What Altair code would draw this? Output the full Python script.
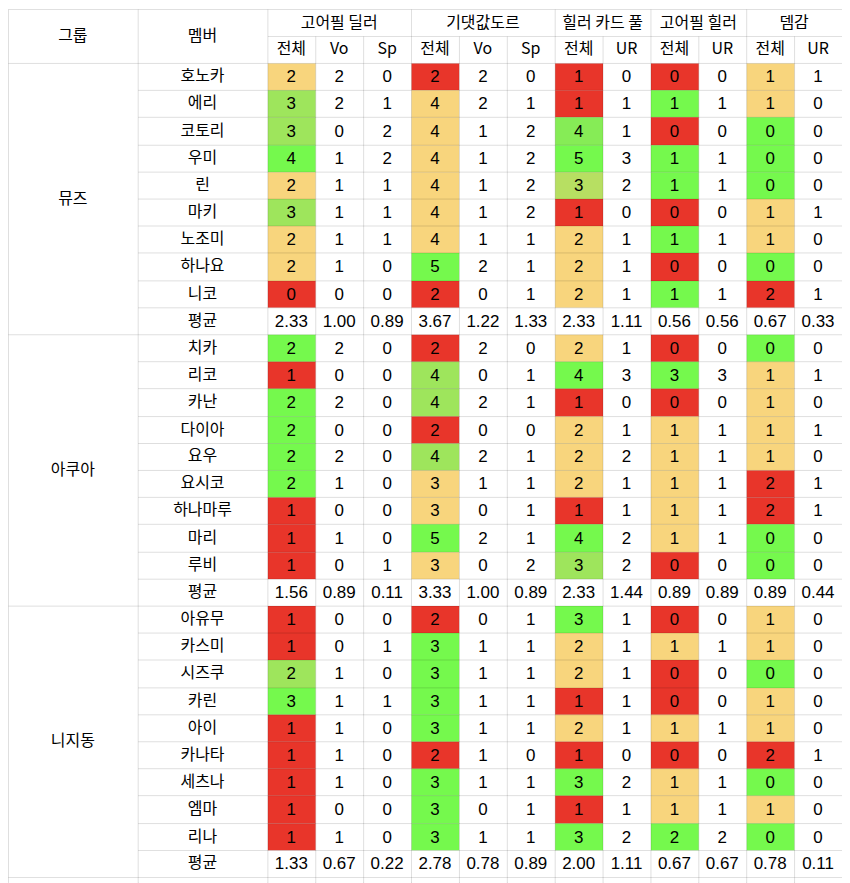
import altair as alt
import pandas as pd

# ---------------- data ----------------
groups = ["뮤즈", "아쿠아", "니지동"]
categories = ["고어필 딜러", "기댓값도르", "힐러 카드 풀", "고어필 힐러", "뎀감"]
category_spans = [3, 3, 2, 2, 2]
sub_headers = ["전체", "Vo", "Sp", "전체", "Vo", "Sp", "전체", "UR", "전체", "UR", "전체", "UR"]
total_cols = [0, 3, 6, 8, 10]  # which sub-columns are the coloured "전체" columns

members_muse = ["호노카", "에리", "코토리", "우미", "린", "마키", "노조미", "하나요", "니코"]
values_muse = [
    [2, 2, 0, 2, 2, 0, 1, 0, 0, 0, 1, 1],
    [3, 2, 1, 4, 2, 1, 1, 1, 1, 1, 1, 0],
    [3, 0, 2, 4, 1, 2, 4, 1, 0, 0, 0, 0],
    [4, 1, 2, 4, 1, 2, 5, 3, 1, 1, 0, 0],
    [2, 1, 1, 4, 1, 2, 3, 2, 1, 1, 0, 0],
    [3, 1, 1, 4, 1, 2, 1, 0, 0, 0, 1, 1],
    [2, 1, 1, 4, 1, 1, 2, 1, 1, 1, 1, 0],
    [2, 1, 0, 5, 2, 1, 2, 1, 0, 0, 0, 0],
    [0, 0, 0, 2, 0, 1, 2, 1, 1, 1, 2, 1],
]
colors_muse = ["YRRRY", "LYRGY", "LYMRG", "GYGGG", "YYKGG", "LYRRY", "YYYGY", "YGYRG", "RRYGR"]
avg_muse = [2.33, 1.00, 0.89, 3.67, 1.22, 1.33, 2.33, 1.11, 0.56, 0.56, 0.67, 0.33]

members_aqours = ["치카", "리코", "카난", "다이아", "요우", "요시코", "하나마루", "마리", "루비"]
values_aqours = [
    [2, 2, 0, 2, 2, 0, 2, 1, 0, 0, 0, 0],
    [1, 0, 0, 4, 0, 1, 4, 3, 3, 3, 1, 1],
    [2, 2, 0, 4, 2, 1, 1, 0, 0, 0, 1, 0],
    [2, 0, 0, 2, 0, 0, 2, 1, 1, 1, 1, 1],
    [2, 2, 0, 4, 2, 1, 2, 2, 1, 1, 1, 0],
    [2, 1, 0, 3, 1, 1, 2, 1, 1, 1, 2, 1],
    [1, 0, 0, 3, 0, 1, 1, 1, 1, 1, 2, 1],
    [1, 1, 0, 5, 2, 1, 4, 2, 1, 1, 0, 0],
    [1, 0, 1, 3, 0, 2, 3, 2, 0, 0, 0, 0],
]
colors_aqours = ["GRYRG", "RLGGY", "GLRRY", "GRYYY", "GLYYY", "GYYYR", "RYRYR", "RGGYG", "RYLRG"]
avg_aqours = [1.56, 0.89, 0.11, 3.33, 1.00, 0.89, 2.33, 1.44, 0.89, 0.89, 0.89, 0.44]

members_niji = ["아유무", "카스미", "시즈쿠", "카린", "아이", "카나타", "세츠나", "엠마", "리나"]
values_niji = [
    [1, 0, 0, 2, 0, 1, 3, 1, 0, 0, 1, 0],
    [1, 0, 1, 3, 1, 1, 2, 1, 1, 1, 1, 0],
    [2, 1, 0, 3, 1, 1, 2, 1, 0, 0, 0, 0],
    [3, 1, 1, 3, 1, 1, 1, 1, 0, 0, 1, 0],
    [1, 1, 0, 3, 1, 1, 2, 1, 1, 1, 1, 0],
    [1, 1, 0, 2, 1, 0, 1, 0, 0, 0, 2, 1],
    [1, 1, 0, 3, 1, 1, 3, 2, 1, 1, 0, 0],
    [1, 0, 0, 3, 0, 1, 1, 1, 1, 1, 1, 0],
    [1, 1, 0, 3, 1, 1, 3, 2, 2, 2, 0, 0],
]
colors_niji = ["RRGRY", "RGYYY", "LGYRG", "GGRRY", "RGYYY", "RRRRR", "RGGYG", "RGRYY", "RGGGG"]
avg_niji = [1.33, 0.67, 0.22, 2.78, 0.78, 0.89, 2.00, 1.11, 0.67, 0.67, 0.78, 0.11]

all_members = [members_muse, members_aqours, members_niji]
all_values = [values_muse, values_aqours, values_niji]
all_colors = [colors_muse, colors_aqours, colors_niji]
all_avgs = [avg_muse, avg_aqours, avg_niji]

# ---------------- styling / layout ----------------
palette = {
    "R": "#e8352a",
    "Y": "#f8d57d",
    "G": "#75f94d",
    "L": "#9ee55c",
    "M": "#86ec56",
    "K": "#b7df62",
    "W": "#ffffff",
}
col_w = [130, 130] + [48] * 12
col_edges = [0]
for w in col_w:
    col_edges.append(col_edges[-1] + w)
row_edges = [0, 27] + [54 + round(27.2 * i) for i in range(0, 31)] + [898]
W = col_edges[-1]
H = 875

cells = []


def add(c0, c1, r0, r1, label="", fill="#ffffff", kind="txt"):
    cells.append({
        "x": col_edges[c0] + 0.5, "x2": col_edges[c1] + 0.5,
        "y": row_edges[r0] + 0.5, "y2": row_edges[r1] + 0.5,
        "xc": (col_edges[c0] + col_edges[c1]) / 2,
        "yc": (row_edges[r0] + row_edges[r1]) / 2,
        "fill": fill, "label": label, "kind": kind,
    })


# header
add(0, 1, 0, 2, "그룹")
add(1, 2, 0, 2, "멤버")
c = 2
for name, span in zip(categories, category_spans):
    add(c, c + span, 0, 1, name)
    c += span
for j, s in enumerate(sub_headers):
    add(2 + j, 3 + j, 1, 2, s)

# body
r = 2
for g, gname in enumerate(groups):
    add(0, 1, r, r + 10, gname)
    for m, mname in enumerate(all_members[g]):
        add(1, 2, r + m, r + m + 1, mname)
        for j, v in enumerate(all_values[g][m]):
            fill = "#ffffff"
            if j in total_cols:
                fill = palette[all_colors[g][m][total_cols.index(j)]]
            add(2 + j, 3 + j, r + m, r + m + 1, str(v), fill, "num")
    add(1, 2, r + 9, r + 10, "평균")
    for j, v in enumerate(all_avgs[g]):
        add(2 + j, 3 + j, r + 9, r + 10, f"{v:.2f}", "#ffffff", "num")
    r += 10

# partial next row at the bottom edge
for j in range(len(col_w)):
    add(j, j + 1, r, r + 1, "")

df = pd.DataFrame(cells)

xs = alt.Scale(domain=[0, W], range=[0, W])
ys = alt.Scale(domain=[0, H], range=[0, H])

base = alt.Chart(df)

fills = base.mark_rect(strokeWidth=0).encode(
    x=alt.X("x:Q", scale=xs, axis=None),
    x2="x2:Q",
    y=alt.Y("y:Q", scale=ys, axis=None),
    y2="y2:Q",
    fill=alt.Fill("fill:N", scale=None),
)

outlines = base.mark_rect(fillOpacity=0, stroke="#000000", strokeOpacity=0.07, strokeWidth=1).encode(
    x=alt.X("x:Q", scale=xs, axis=None),
    x2="x2:Q",
    y=alt.Y("y:Q", scale=ys, axis=None),
    y2="y2:Q",
)

txt = base.transform_filter(alt.datum.kind == "txt").mark_text(
    font="Noto Sans CJK KR, Liberation Sans, sans-serif", fontSize=16,
    color="#000000", align="center", baseline="middle", dy=0,
).encode(
    x=alt.X("xc:Q", scale=xs, axis=None),
    y=alt.Y("yc:Q", scale=ys, axis=None),
    text="label:N",
)

nums = base.transform_filter(alt.datum.kind == "num").mark_text(
    font="Liberation Sans, Arial, sans-serif", fontSize=17,
    color="#000000", align="center", baseline="middle", dy=1,
).encode(
    x=alt.X("xc:Q", scale=xs, axis=None),
    y=alt.Y("yc:Q", scale=ys, axis=None),
    text="label:N",
)

chart = alt.layer(fills, outlines, txt, nums).properties(
    width=W, height=H, padding=0,
    autosize=alt.AutoSizeParams(type="none"),
).configure_view(stroke=None).configure(background="#ffffff")

chart.save("out.html", embed_options={"renderer": "svg", "actions": False})
